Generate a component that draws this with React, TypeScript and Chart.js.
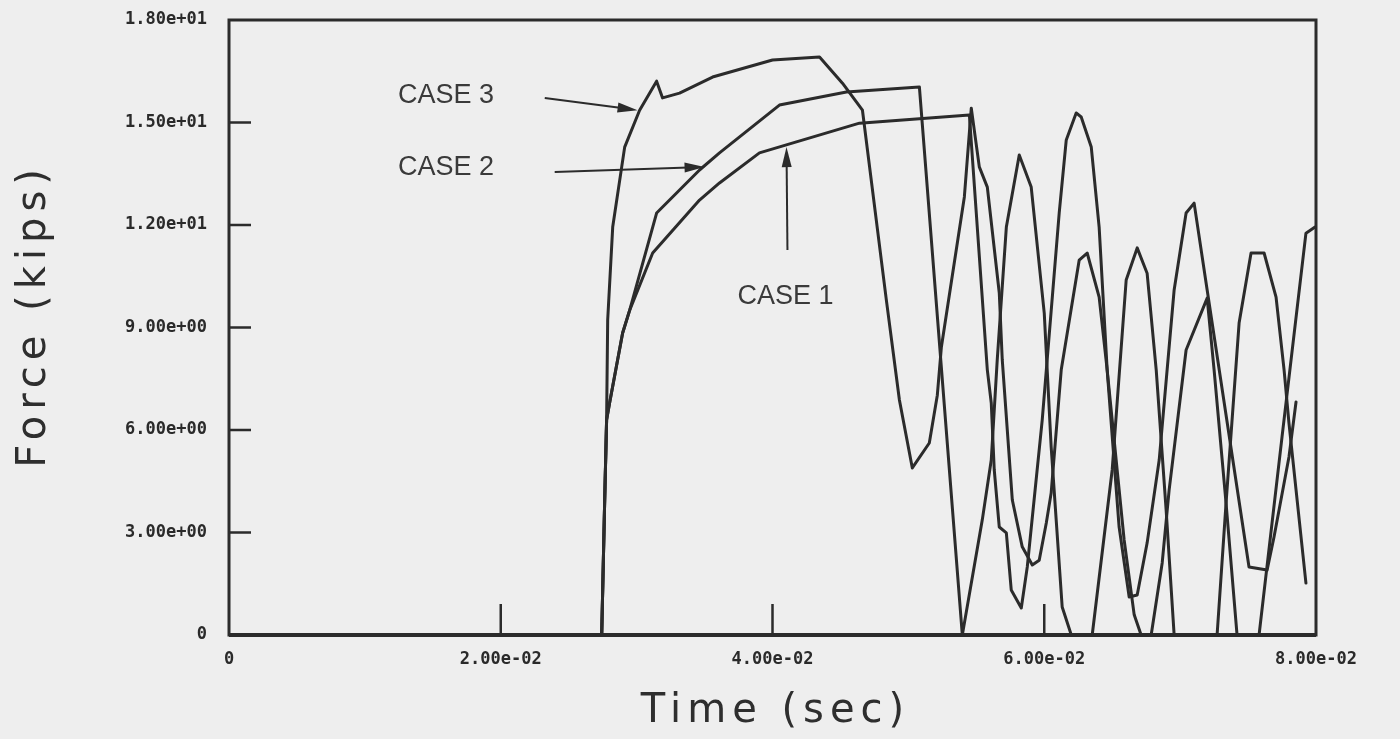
import React, { useEffect, useRef } from "react";
import { Chart, registerables } from "chart.js";

Chart.register(...registerables);

// ---- data (time in ms, force in kips) ----
const case1T = [0, 27.43, 27.65, 27.79, 28.01, 28.97, 29.49, 31.18, 34.63, 36.1, 39.04, 46.4, 54.49, 55.81, 56.1, 56.32, 56.69, 57.21, 57.57, 58.31, 58.75, 59.85, 61.1, 61.62, 62.35, 62.72, 63.46, 64.04, 64.63, 65.51, 66.25, 66.84, 67.57, 68.46, 69.56, 70.44, 71.03, 71.99, 75.07, 76.4, 76.91, 78.01, 78.53];
const case1F = [0, 0, 3.95, 6.29, 6.79, 8.84, 9.51, 11.18, 12.73, 13.23, 14.11, 14.98, 15.22, 7.76, 6.79, 4.83, 3.16, 2.99, 1.32, 0.79, 1.99, 6.29, 12.35, 14.49, 15.28, 15.16, 14.28, 11.94, 7.76, 3.16, 1.11, 1.17, 2.69, 5.12, 10.1, 12.35, 12.64, 10.1, 1.99, 1.9, 2.87, 5.21, 6.82];

const case2T = [0, 27.43, 27.65, 27.79, 28.01, 28.97, 29.49, 31.47, 34.63, 36.1, 40.51, 45.44, 50.81, 53.97, 55.44, 56.1, 56.54, 57.21, 58.16, 59.04, 60.0, 60.51, 61.32, 61.99, 63.53, 65.0, 66.03, 66.84, 67.57, 68.24, 68.97, 69.56, 72.72, 73.38, 74.34, 75.22, 76.18, 77.06, 77.65, 78.01, 79.26];
const case2F = [0, 0, 3.95, 6.29, 6.79, 8.84, 9.51, 12.35, 13.61, 14.11, 15.51, 15.89, 16.04, 0, 3.37, 5.12, 8.05, 11.94, 14.05, 13.11, 9.42, 5.5, 0.82, 0, 0, 4.83, 10.39, 11.33, 10.59, 7.76, 3.66, 0, 0, 3.86, 9.13, 11.18, 11.18, 9.89, 7.76, 6.2, 1.52];

const case3T = [0, 27.43, 27.65, 27.79, 27.87, 28.24, 29.12, 30.22, 31.47, 31.91, 33.16, 35.59, 40.0, 43.46, 45.15, 46.62, 48.38, 49.34, 50.29, 51.54, 52.13, 52.43, 54.12, 54.63, 55.22, 55.81, 56.69, 56.91, 57.65, 58.38, 59.12, 59.63, 60.15, 60.51, 61.25, 62.57, 63.16, 64.04, 64.63, 65.88, 66.62, 67.13, 67.87, 68.68, 69.19, 70.44, 71.99, 72.5, 73.38, 74.19, 75.81, 77.5, 79.26, 79.93];
const case3F = [0, 0, 3.95, 6.29, 9.22, 11.94, 14.28, 15.36, 16.21, 15.72, 15.86, 16.33, 16.83, 16.92, 16.15, 15.36, 9.8, 6.88, 4.89, 5.62, 7.02, 8.43, 12.82, 15.42, 13.7, 13.11, 10.01, 8.05, 3.95, 2.58, 2.05, 2.19, 3.28, 4.16, 7.76, 10.97, 11.18, 9.89, 7.76, 2.78, 0.59, 0, 0, 2.11, 4.24, 8.34, 9.86, 7.76, 3.86, 0, 0, 5.8, 11.76, 11.94];

const xTickValues = [0, 0.02, 0.04, 0.06, 0.08];
const yTickValues = [0, 3, 6, 9, 12, 15, 18];

// annotation labels (data units: ms, kips)
const noteTexts = ["CASE 3", "CASE 2", "CASE 1"];
const noteT = [12.43, 12.43, 37.43];
const noteF = [15.8, 13.67, 9.92];
const arrowFromT = [23.24, 23.97, 41.1];
const arrowFromF = [15.72, 13.55, 11.27];
const arrowToT = [30.07, 35.0, 41.03];
const arrowToF = [15.36, 13.7, 14.28];

const xTitle = "Time (sec)";
const yTitle = "Force (kips)";

const INK = "#2b2b2b";
const PAPER = "#eeeeee";

const fmt = (v: number) => {
  if (Math.abs(v) < 1e-12) return "0";
  const [m, e] = v.toExponential(2).split("e");
  const sign = e[0] === "-" ? "-" : "+";
  const digits = e.replace(/[+-]/, "").padStart(2, "0");
  return `${m}e${sign}${digits}`;
};

const toPts = (T: number[], F: number[]) => T.map((t, i) => ({ x: t / 1000, y: F[i] }));

const decor = {
  id: "decor",
  beforeDraw(chart: any) {
    const ctx = chart.ctx;
    ctx.save();
    ctx.fillStyle = PAPER;
    ctx.fillRect(0, 0, chart.width, chart.height);
    ctx.restore();
  },
  afterDatasetsDraw(chart: any) {
    const ctx = chart.ctx;
    const a = chart.chartArea;
    const xs = chart.scales.x;
    const ys = chart.scales.y;
    ctx.save();
    // frame
    ctx.strokeStyle = INK;
    ctx.lineWidth = 3;
    ctx.strokeRect(a.left, a.top, a.right - a.left, a.bottom - a.top);
    ctx.lineWidth = 4;
    ctx.beginPath();
    ctx.moveTo(a.left, a.bottom);
    ctx.lineTo(a.right, a.bottom);
    ctx.stroke();
    // inner ticks
    ctx.lineWidth = 2.5;
    ctx.beginPath();
    yTickValues.slice(1, -1).forEach((v) => {
      const py = ys.getPixelForValue(v);
      ctx.moveTo(a.left, py);
      ctx.lineTo(a.left + 22, py);
    });
    xTickValues.slice(1, -1).forEach((v) => {
      const px = xs.getPixelForValue(v);
      ctx.moveTo(px, a.bottom);
      ctx.lineTo(px, a.bottom - 31);
    });
    ctx.stroke();

    // annotations
    ctx.fillStyle = "#3a3a3a";
    ctx.font = "27px 'Liberation Sans', Arial, sans-serif";
    ctx.textAlign = "left";
    ctx.textBaseline = "middle";
    noteTexts.forEach((txt, i) => {
      ctx.fillText(txt, xs.getPixelForValue(noteT[i] / 1000), ys.getPixelForValue(noteF[i]));
    });
    ctx.strokeStyle = INK;
    ctx.fillStyle = INK;
    ctx.lineWidth = 2;
    noteTexts.forEach((_, i) => {
      const x0 = xs.getPixelForValue(arrowFromT[i] / 1000);
      const y0 = ys.getPixelForValue(arrowFromF[i]);
      const x1 = xs.getPixelForValue(arrowToT[i] / 1000);
      const y1 = ys.getPixelForValue(arrowToF[i]);
      const ang = Math.atan2(y1 - y0, x1 - x0);
      const L = 20, W = 5;
      ctx.beginPath();
      ctx.moveTo(x0, y0);
      ctx.lineTo(x1 - Math.cos(ang) * L * 0.8, y1 - Math.sin(ang) * L * 0.8);
      ctx.stroke();
      ctx.beginPath();
      ctx.moveTo(x1, y1);
      ctx.lineTo(x1 - Math.cos(ang) * L - Math.sin(ang) * W, y1 - Math.sin(ang) * L + Math.cos(ang) * W);
      ctx.lineTo(x1 - Math.cos(ang) * L + Math.sin(ang) * W, y1 - Math.sin(ang) * L - Math.cos(ang) * W);
      ctx.closePath();
      ctx.fill();
    });

    // axis titles
    ctx.fillStyle = "#2e2e2e";
    ctx.font = "40px 'DejaVu Sans', sans-serif";
    ctx.textAlign = "center";
    ctx.textBaseline = "middle";
    (ctx as any).letterSpacing = "6px";
    ctx.fillText(xTitle, (a.left + a.right) / 2 + 3, 712);
    ctx.save();
    ctx.translate(35, (a.top + a.bottom) / 2 - 9);
    ctx.rotate(-Math.PI / 2);
    ctx.fillText(yTitle, 3, 0);
    ctx.restore();
    (ctx as any).letterSpacing = "0px";
    ctx.restore();
  },
};

export default function App() {
  const ref = useRef<HTMLCanvasElement | null>(null);
  useEffect(() => {
    if (!ref.current) return;
    const line = (T: number[], F: number[], label: string) => ({
      label,
      data: toPts(T, F),
      borderColor: INK,
      borderWidth: 3,
      pointRadius: 0,
      tension: 0,
      fill: false,
      borderJoinStyle: "round" as const,
      borderCapStyle: "round" as const,
    });
    const tickFont = { family: "'DejaVu Sans Mono', monospace", size: 17, weight: "bold" as const };
    const chart = new Chart(ref.current, {
      type: "line",
      data: {
        datasets: [
          line(case1T, case1F, "CASE 1"),
          line(case2T, case2F, "CASE 2"),
          line(case3T, case3F, "CASE 3"),
        ],
      },
      options: {
        responsive: false,
        animation: false,
        devicePixelRatio: 1,
        events: [],
        layout: { padding: { top: 20, right: 84, left: 0, bottom: 0 } },
        plugins: { legend: { display: false }, tooltip: { enabled: false } },
        scales: {
          x: {
            type: "linear",
            min: 0,
            max: 0.08,
            afterBuildTicks: (s: any) => {
              s.ticks = xTickValues.map((v) => ({ value: v }));
            },
            afterFit: (s: any) => {
              s.height = 104;
              s.paddingLeft = 0;
              s.paddingRight = 0;
            },
            ticks: {
              callback: (v: any) => fmt(Number(v)),
              font: tickFont,
              color: "#2a2a2a",
              padding: 14,
              maxRotation: 0,
              autoSkip: false,
            },
            grid: { display: false, drawTicks: false },
            border: { display: false },
          },
          y: {
            type: "linear",
            min: 0,
            max: 18,
            afterBuildTicks: (s: any) => {
              s.ticks = yTickValues.map((v) => ({ value: v }));
            },
            afterFit: (s: any) => {
              s.width = 229;
              s.paddingTop = 0;
              s.paddingBottom = 0;
            },
            ticks: {
              callback: (v: any) => fmt(Number(v)),
              font: tickFont,
              color: "#2a2a2a",
              padding: 22,
              autoSkip: false,
            },
            grid: { display: false, drawTicks: false },
            border: { display: false },
          },
        },
      },
      plugins: [decor],
    });
    return () => chart.destroy();
  }, []);
  return (
    <div style={{ position: "absolute", left: 0, top: 0, width: 1400, height: 739 }}>
      <canvas ref={ref} width={1400} height={739} style={{ display: "block" }} />
    </div>
  );
}
